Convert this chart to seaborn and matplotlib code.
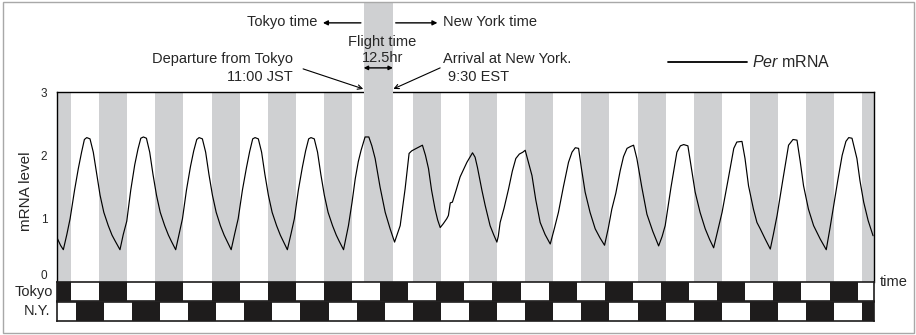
import matplotlib
matplotlib.use('Agg')
import matplotlib.pyplot as plt
from matplotlib.lines import Line2D
from matplotlib.patches import Rectangle
import numpy as np
import pandas as pd
import seaborn as sns

# time axis in hours from midnight JST of day 0
T_END = 349

# Per mRNA level (hours, level)
hours = [
    0.0, 1.5, 2.7, 4.2, 5.6, 7.5, 9.1, 10.5, 11.7, 12.7, 14.1, 15.5, 17.0, 18.4, 20.0, 21.9, 23.5, 24.8, 26.9,
    28.3, 29.8, 31.5, 33.2, 34.6, 35.8, 36.9, 38.2, 39.6, 41.0, 42.5, 44.1, 46.0, 47.6, 48.9, 50.7,
    52.1, 53.6, 55.3, 57.0, 58.4, 59.7, 60.7, 62.1, 63.5, 64.9, 66.4, 68.0, 69.8, 71.4, 72.7, 74.4,
    75.9, 77.4, 79.2, 80.9, 82.3, 83.6, 84.6, 86.0, 87.4, 88.8, 90.3, 91.9, 93.8, 95.4, 96.7, 98.4,
    99.9, 101.4, 103.1, 104.8, 106.2, 107.5, 108.5, 109.9, 111.3, 112.7, 114.2, 115.8, 117.7, 119.3, 120.6, 122.4,
    124.5, 126.0, 127.4, 128.7, 129.9, 131.6, 133.2, 134.5, 135.9, 138.0, 140.2, 142.3, 144.2,
    146.6, 148.7, 150.4, 151.5, 153.0, 154.6, 156.1, 157.4, 158.7, 160.0, 161.5, 162.6, 163.7,
    165.0, 166.5, 167.2, 168.0, 168.9, 170.5, 172.2, 173.7, 175.1, 176.4, 177.5, 178.6, 179.6, 181.5, 182.9,
    185.0, 186.5, 187.9, 188.5, 189.3, 191.0, 192.9, 194.5, 196.0, 197.5, 199.0, 200.0, 201.3, 202.9, 204.5,
    206.4, 208.5, 210.7, 212.5, 214.2, 216.3, 218.5, 220.0, 221.4, 222.8, 224.0, 225.6, 227.7, 229.9, 231.9,
    233.9, 235.5, 237.0, 238.7, 240.6, 242.0, 243.5, 245.0, 246.3, 247.7, 249.8, 252.0, 254.5, 257.0, 258.5,
    259.8, 262.3, 264.8, 266.3, 267.7, 269.5, 271.0, 272.6, 274.7, 276.9, 278.8, 280.5, 282.3, 284.1, 286.6,
    289.1, 290.4, 292.6, 293.9, 295.4, 297.5, 299.0, 300.4, 302.5, 304.7, 306.0, 307.6, 310.0, 312.5, 314.4,
    316.1, 317.5, 318.9, 321.0, 323.2, 326.0, 328.6, 330.2, 331.8, 333.6, 335.4, 337.0, 338.2, 339.6, 341.7,
    343.0, 344.6, 346.5, 348.6,
]
per_mrna = [
    0.70, 0.58, 0.51, 0.75, 1.00, 1.45, 1.79, 2.05, 2.25, 2.28, 2.26, 2.05, 1.70, 1.37, 1.10, 0.89, 0.74, 0.65, 0.51,
    0.75, 0.96, 1.45, 1.85, 2.10, 2.27, 2.29, 2.27, 2.05, 1.70, 1.37, 1.10, 0.89, 0.74, 0.64, 0.51,
    0.75, 1.00, 1.45, 1.82, 2.07, 2.25, 2.28, 2.26, 2.05, 1.70, 1.37, 1.10, 0.89, 0.74, 0.64, 0.51,
    0.76, 1.00, 1.45, 1.80, 2.06, 2.26, 2.28, 2.26, 2.05, 1.70, 1.37, 1.10, 0.89, 0.74, 0.64, 0.51,
    0.75, 1.00, 1.45, 1.81, 2.07, 2.26, 2.28, 2.26, 2.05, 1.70, 1.37, 1.10, 0.89, 0.74, 0.64, 0.51,
    0.89, 1.25, 1.63, 1.90, 2.08, 2.29, 2.29, 2.15, 1.95, 1.50, 1.10, 0.84, 0.63,
    0.89, 1.47, 2.03, 2.07, 2.10, 2.13, 2.16, 2.00, 1.79, 1.45, 1.15, 0.98, 0.86,
    0.92, 1.00, 1.05, 1.25, 1.26, 1.45, 1.66, 1.78, 1.89, 1.97, 2.04, 1.97, 1.81, 1.45, 1.21,
    0.89, 0.75, 0.63, 0.72, 0.94, 1.17, 1.47, 1.75, 1.95, 2.02, 2.05, 2.08, 1.90, 1.68, 1.30,
    0.94, 0.75, 0.60, 0.85, 1.10, 1.50, 1.89, 2.05, 2.12, 2.11, 1.80, 1.42, 1.10, 0.84, 0.70,
    0.58, 0.85, 1.15, 1.40, 1.76, 1.98, 2.11, 2.14, 2.16, 1.95, 1.50, 1.07, 0.80, 0.57, 0.72,
    0.89, 1.50, 2.05, 2.15, 2.17, 2.15, 1.80, 1.42, 1.10, 0.84, 0.67, 0.54, 0.82, 1.10, 1.60,
    2.11, 2.21, 2.22, 1.95, 1.52, 1.15, 0.94, 0.84, 0.68, 0.52, 0.75, 1.05, 1.60, 2.16, 2.25,
    2.24, 1.90, 1.52, 1.15, 0.89, 0.68, 0.51, 0.85, 1.21, 1.62, 2.00, 2.22, 2.28, 2.27, 1.95,
    1.60, 1.26, 0.97, 0.73,
]

# dark phases shown as grey bands (Tokyo nights, flight, then New York nights)
band_start = [0, 18, 42, 66, 90, 114, 152, 176, 200, 224, 248, 272, 296, 320, 344]
band_end = [6, 30, 54, 78, 102, 126, 164, 188, 212, 236, 260, 284, 308, 332, 349]
flight = (131, 143.5)

# light/dark bars (black = night), in hours JST
tokyo_dark_start = [0, 18, 42, 66, 90, 114, 138, 162, 186, 210, 234, 258, 282, 306, 330]
tokyo_dark_end = [6, 30, 54, 78, 102, 126, 150, 174, 198, 222, 246, 270, 294, 318, 342]
ny_dark_start = [8, 32, 56, 80, 104, 128, 152, 176, 200, 224, 248, 272, 296, 320, 344]
ny_dark_end = [20, 44, 68, 92, 116, 140, 164, 188, 212, 236, 260, 284, 308, 332, 349]

sns.set_style('white')
plt.rcParams['font.family'] = ['Liberation Sans', 'DejaVu Sans']
plt.rcParams['mathtext.fontset'] = 'custom'
plt.rcParams['mathtext.rm'] = 'Liberation Sans'
plt.rcParams['mathtext.it'] = 'Liberation Sans:italic'

W, H = 916, 335
fig = plt.figure(figsize=(W / 100, H / 100), dpi=100)


def px(x, y):
    return x / W, 1 - y / H


GREY = '#cfd0d2'

ax = fig.add_axes([57 / W, 53 / H, 817 / W, 190 / H])
for s, e in zip(band_start, band_end):
    ax.axvspan(s, e, color=GREY, lw=0, zorder=1)
ax.axvspan(flight[0], flight[1], ymin=0, ymax=(282 - 3) / 190, color=GREY, lw=0,
           zorder=3, clip_on=False)

df = pd.DataFrame({'hours': hours, 'per': per_mrna})
sns.lineplot(data=df, x='hours', y='per', color='black', lw=0.85, ax=ax, zorder=4)

ax.set_xlim(0, T_END)
ax.set_ylim(0, 3)
ax.set_xticks([])
ax.set_yticks([0, 1, 2, 3])
ax.tick_params(axis='y', direction='in', length=4, width=0.8, color='#888888',
               labelsize=8.5, pad=7)
# the zero label sits just above the bottom edge
ax.get_yticklabels()[0].set_verticalalignment('bottom')
ax.set_xlabel('')
ax.set_ylabel('mRNA level', fontsize=11)
ax.yaxis.set_label_coords(-0.029, 0.48)
for side in ['left', 'right', 'top']:
    ax.spines[side].set_color('black')
    ax.spines[side].set_linewidth(1.0)
ax.spines['bottom'].set_visible(False)

# light/dark bars
for yb, starts, ends in [(282, tokyo_dark_start, tokyo_dark_end), (302, ny_dark_start, ny_dark_end)]:
    bx = fig.add_axes([57 / W, (H - yb - 19) / H, 817 / W, 19 / H])
    bx.set_facecolor('white')
    for s, e in zip(starts, ends):
        bx.axvspan(s, e, color='#1e1c1c', lw=0)
    bx.set_xlim(0, T_END)
    bx.set_ylim(0, 1)
    bx.set_xticks([])
    bx.set_yticks([])
    for sp in bx.spines.values():
        sp.set_color('#1e1c1c')
        sp.set_linewidth(1.2)

fs = 10.5
fig.text(*px(53, 292), 'Tokyo', ha='right', va='center', fontsize=fs)
fig.text(*px(50, 311), 'N.Y.', ha='right', va='center', fontsize=fs)
fig.text(*px(880, 282), 'time', ha='left', va='center', fontsize=fs)

# header annotations
y_top = (281 - 22) / 63.3
ax.annotate('', xy=(112.4, y_top), xytext=(flight[0], y_top), annotation_clip=False,
            arrowprops=dict(arrowstyle='-|>', color='black', lw=1.0, mutation_scale=7))
ax.annotate('', xy=(163.7, y_top), xytext=(flight[1], y_top), annotation_clip=False,
            arrowprops=dict(arrowstyle='-|>', color='black', lw=1.0, mutation_scale=7))
fig.text(*px(317, 22), 'Tokyo time', ha='right', va='center', fontsize=fs)
fig.text(*px(443, 22), 'New York time', ha='left', va='center', fontsize=fs)

fig.text(*px(382, 42), 'Flight time', ha='center', va='center', fontsize=fs)
fig.text(*px(383, 58), '12.5hr', ha='center', va='center', fontsize=fs)
y_dbl = (281 - 67) / 63.3
ax.annotate('', xy=(flight[0], y_dbl), xytext=(flight[1], y_dbl), annotation_clip=False,
            arrowprops=dict(arrowstyle='<|-|>', color='black', lw=1.0, mutation_scale=6,
                            shrinkA=0, shrinkB=0))

fig.text(*px(293, 59), 'Departure from Tokyo', ha='right', va='center', fontsize=fs)
fig.text(*px(293, 77), '11:00 JST', ha='right', va='center', fontsize=fs)
fig.text(*px(443, 59), 'Arrival at New York.', ha='left', va='center', fontsize=fs)
fig.text(*px(448, 77), '9:30 EST', ha='left', va='center', fontsize=fs)

y_tip = (281 - 88) / 63.3
ax.annotate('', xy=(flight[0] - 0.2, y_tip), xytext=((303 - 57) / 2.34, (281 - 68) / 63.3),
            annotation_clip=False,
            arrowprops=dict(arrowstyle='->', color='black', lw=0.8, mutation_scale=8,
                            shrinkA=0, shrinkB=0))
ax.annotate('', xy=(flight[1] + 0.2, y_tip), xytext=((440 - 57) / 2.34, (281 - 67) / 63.3),
            annotation_clip=False,
            arrowprops=dict(arrowstyle='->', color='black', lw=0.8, mutation_scale=8,
                            shrinkA=0, shrinkB=0))

# legend
fig.add_artist(Line2D([668 / W, 747 / W], [1 - 62 / H] * 2, color='black', lw=1.3))
fig.text(*px(752, 62), r'$\mathit{Per}$ mRNA', ha='left', va='center', fontsize=11.5)

# outer frame
fig.add_artist(Rectangle((3 / W, 2 / H), 911 / W, 331 / H, transform=fig.transFigure,
                         fill=False, edgecolor='#a8a8a8', lw=1.0))

fig.savefig('out.png', dpi=100)
